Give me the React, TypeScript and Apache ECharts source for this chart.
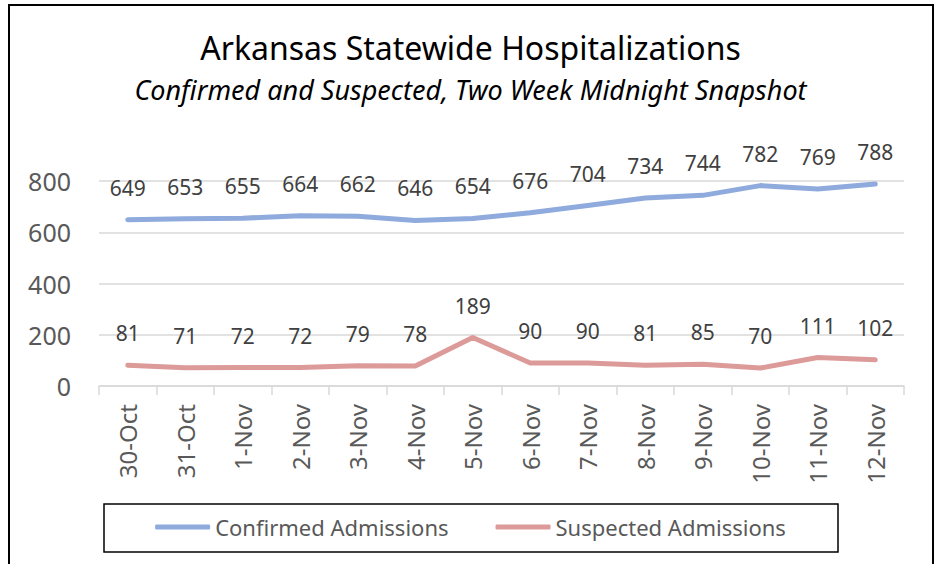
import React, { useEffect, useRef } from "react";
import * as echarts from "echarts";

const categories = ["30-Oct", "31-Oct", "1-Nov", "2-Nov", "3-Nov", "4-Nov", "5-Nov", "6-Nov", "7-Nov", "8-Nov", "9-Nov", "10-Nov", "11-Nov", "12-Nov"];
const confirmed = [649, 653, 655, 664, 662, 646, 654, 676, 704, 734, 744, 782, 769, 788];
const suspected = [81, 71, 72, 72, 79, 78, 189, 90, 90, 81, 85, 70, 111, 102];
const yTicks = { min: 0, max: 800, interval: 200 };

const FONT = "'Noto Sans', 'Open Sans', sans-serif";
const BLUE = "#8FAADC";
const RED = "#DC9A99";

export default function App() {
  const ref = useRef<HTMLDivElement>(null);
  useEffect(() => {
    document.body.style.margin = "0";
    const chart = echarts.init(ref.current!, null, { renderer: "svg" });
    const lineSeries = (name: string, data: number[], color: string) => ({
      name,
      type: "line",
      data,
      symbol: "circle",
      symbolSize: 2,
      showSymbol: true,
      itemStyle: { color },
      lineStyle: { color, width: 5, cap: "round", join: "round" },
      label: {
        show: true,
        position: "top",
        distance: 20,
        fontFamily: FONT,
        fontSize: 21,
        lineHeight: 22,
        color: "#404040",
      },
      emphasis: { disabled: true },
    });
    chart.setOption({
      animation: false,
      backgroundColor: "#ffffff",
      textStyle: { fontFamily: FONT },
      title: [
        {
          text: "Arkansas Statewide Hospitalizations",
          left: "center",
          top: 26,
          textStyle: { fontFamily: FONT, fontSize: 32, fontWeight: "normal", color: "#000000" },
        },
        {
          text: "Confirmed and Suspected, Two Week Midnight Snapshot",
          left: "center",
          top: 71,
          textStyle: { fontFamily: FONT, fontSize: 27, fontStyle: "italic", fontWeight: "normal", color: "#000000" },
        },
      ],
      graphic: [
        {
          type: "rect",
          shape: { x: 9, y: 5, width: 924, height: 600 },
          style: { fill: "none", stroke: "#000000", lineWidth: 2 },
          silent: true,
        },
        {
          type: "rect",
          shape: { x: 104, y: 504, width: 734, height: 48 },
          style: { fill: "none", stroke: "#000000", lineWidth: 1.5 },
          silent: true,
        },
      ],
      legend: {
        left: "center",
        top: 509,
        itemWidth: 55,
        itemHeight: 5,
        itemGap: 47,
        icon: "roundRect",
        textStyle: { fontFamily: FONT, fontSize: 22, lineHeight: 26, color: "#595959" },
        data: ["Confirmed Admissions", "Suspected Admissions"],
      },
      grid: { left: 99, right: 37, top: 181, bottom: 178, containLabel: false },
      xAxis: {
        type: "category",
        data: categories,
        boundaryGap: true,
        axisLine: { show: true, lineStyle: { color: "#D9D9D9", width: 1.5 } },
        axisTick: { show: true, length: 9, alignWithLabel: false, lineStyle: { color: "#D9D9D9", width: 1.5 } },
        axisLabel: {
          rotate: 90,
          margin: 18,
          interval: 0,
          fontFamily: FONT,
          fontSize: 24,
          color: "#595959",
        },
      },
      yAxis: {
        type: "value",
        min: yTicks.min,
        max: yTicks.max,
        interval: yTicks.interval,
        axisLine: { show: false },
        axisTick: { show: false },
        splitLine: { lineStyle: { color: "#D9D9D9", width: 1.5 } },
        axisLabel: { margin: 28, fontFamily: FONT, fontSize: 25, color: "#595959" },
      },
      series: [
        lineSeries("Confirmed Admissions", confirmed, BLUE),
        lineSeries("Suspected Admissions", suspected, RED),
      ],
    });
    return () => chart.dispose();
  }, []);
  return <div ref={ref} style={{ width: 941, height: 564 }} />;
}
